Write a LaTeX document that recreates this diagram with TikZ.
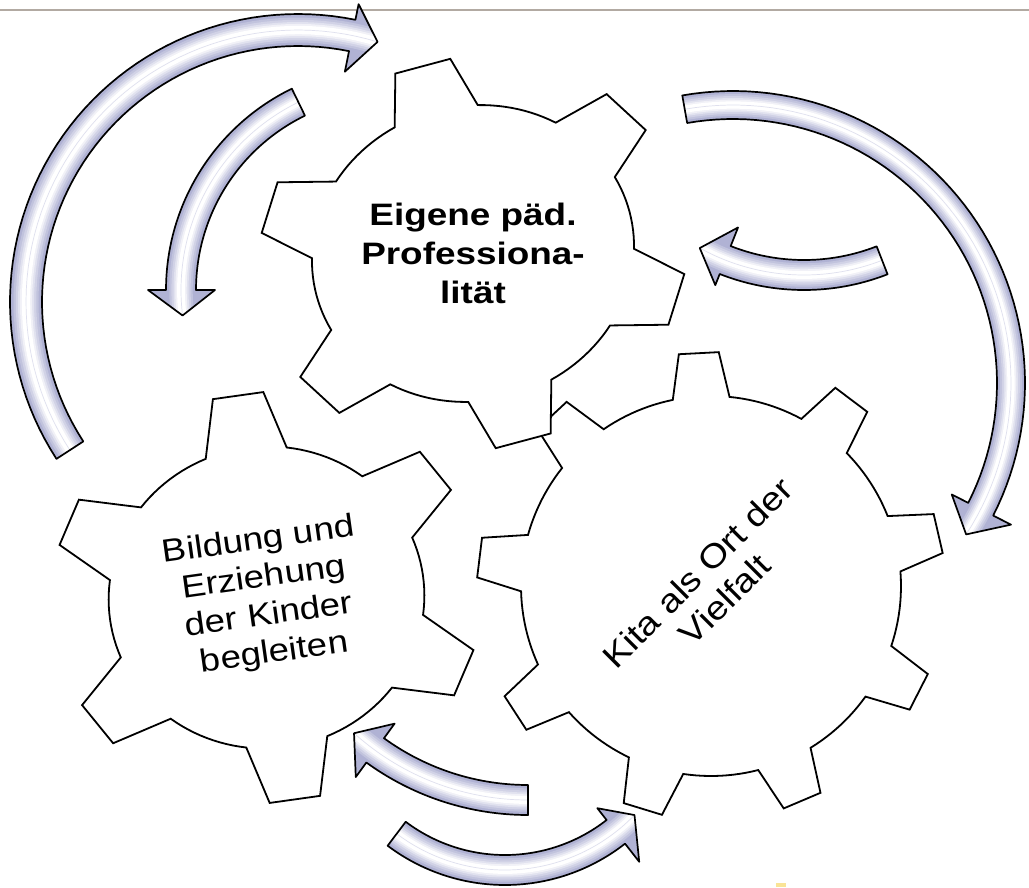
\documentclass[tikz,border=0pt]{standalone}
\usepackage{fontspec}
\newfontfamily\arial{Liberation Sans}
\definecolor{lav}{RGB}{176,178,212}
\definecolor{topline}{RGB}{178,170,162}
\definecolor{marky}{RGB}{250,228,150}

% gear outline in local coordinates: n, first tooth angle, root radius, tip radius, half base angle, half tip angle, last index
\newcommand\gearpath[7]{%
 ({#3*cos(#2-#5)},{#3*sin(#2-#5)})
 \foreach \i [evaluate=\i as \ta using #2+\i*360/#1] in {0,...,#7}{
   -- ({#4*cos(\ta-#6)},{#4*sin(\ta-#6)})
   -- ({#4*cos(\ta+#6)},{#4*sin(\ta+#6)})
   -- ({#3*cos(\ta+#5)},{#3*sin(\ta+#5)})
   \foreach \k in {1,...,12}{
     -- ({#3*cos(\ta+#5+\k*(360/#1-2*#5)/12)},{#3*sin(\ta+#5+\k*(360/#1-2*#5)/12)})
   }
 } -- cycle}

% curved block arrow: cx, cy, inner r, outer r, tail angle, base angle, tip angle, inner wing, outer wing
\newcommand\arrowpath[9]{%
 plot[domain=#5:#6,samples=60] ({#1+#4*cos(\x)},{#2+#4*sin(\x)})
 -- ({#1+(#4+#9)*cos(#6)},{#2+(#4+#9)*sin(#6)})
 -- ({#1+(#3+#4)/2*cos(#7)},{#2+(#3+#4)/2*sin(#7)})
 -- ({#1+(#3-#8)*cos(#6)},{#2+(#3-#8)*sin(#6)})
 -- plot[domain=#6:#5,samples=60] ({#1+#3*cos(\x)},{#2+#3*sin(\x)})
 -- cycle}

\newcommand\hlarc[7]{% cx cy rin rout from to ; #7 = options
  \draw[#7] plot[domain=#5:#6,samples=60] ({#1+(#3+#4)/2*cos(\x)},{#2+(#3+#4)/2*sin(\x)});}

\newcommand\curvarrow[9]{%
 \fill[arrowfill] \arrowpath{#1}{#2}{#3}{#4}{#5}{#6}{#7}{#8}{#9};
 \begin{scope}
  \clip \arrowpath{#1}{#2}{#3}{#4}{#5}{#6}{#7}{#8}{#9};
  \hlarc{#1}{#2}{#3}{#4}{#5}{#7}{line width={0.78*(#4-#3)}, color=lav!78!white}
  \hlarc{#1}{#2}{#3}{#4}{#5}{#7}{line width={0.64*(#4-#3)}, color=lav!58!white}
  \hlarc{#1}{#2}{#3}{#4}{#5}{#7}{line width={0.50*(#4-#3)}, color=lav!38!white}
  \hlarc{#1}{#2}{#3}{#4}{#5}{#7}{line width={0.38*(#4-#3)}, color=lav!18!white}
  \hlarc{#1}{#2}{#3}{#4}{#5}{#7}{line width={0.26*(#4-#3)}, color=white}
  \hlarc{#1}{#2}{#3}{#4}{#5}{#7}{line width=0.7, color=lav!40!white}
 \end{scope}
 \draw[arrowline] \arrowpath{#1}{#2}{#3}{#4}{#5}{#6}{#7}{#8}{#9};
}

\begin{document}
\begin{tikzpicture}[x=1pt,y=-1pt,
  gearshape/.style={draw=black, fill=white, line width=1.8pt, line join=miter},
  arrowfill/.style={fill=lav},
  arrowline/.style={draw=black, line width=1.7pt, line join=round},
  geartext/.style={align=center, inner sep=0pt, text=black}]
\useasboundingbox (0,0) rectangle (1029,887);
\fill[white] (0,0) rectangle (1029,887);

\draw[topline, line width=2pt] (0,10) -- (1029,10);
\fill[marky] (776,883) rectangle (786,887);

% gears
\begin{scope}[shift={(711,586)}]
 \draw[gearshape] \gearpath{9}{-93}{190}{234}{8.6}{4.9}{8};
\end{scope}
\begin{scope}[shift={(266.5,597.5)}, rotate=8, yscale=0.955]
 \draw[gearshape] \gearpath{6}{-90}{158}{215}{15}{6.8}{5};
\end{scope}
\begin{scope}[shift={(473,253.5)}, rotate=15, yscale=0.91]
 \draw[gearshape] \gearpath{6}{-90}{162}{215}{15.4}{7.6}{5};
\end{scope}

% texts
\node[geartext, font=\arial\bfseries\fontsize{31}{39}\selectfont, xscale=1.19] (t1) at (473,253.5)
  {Eigene päd.\\Professiona-\\lität};
\node[geartext, font=\arial\fontsize{32}{38}\selectfont, rotate=8, xscale=1.145] (t2) at (266.5,597.5)
  {Bildung und\\Erziehung\\der Kinder\\begleiten};
\node[geartext, font=\arial\fontsize{33}{38}\selectfont, rotate=45, xscale=1.15] (t3) at (711,586)
  {Kita als Ort der\\Vielfalt};

% arrows
\curvarrow{298}{302}{256}{288}{147}{281.5}{287}{21}{16}
\curvarrow{390}{290}{194}{224}{244}{180}{173}{19}{18}
\curvarrow{733}{383}{264}{292}{-100}{27}{33}{18.5}{20}
\curvarrow{804}{60}{200}{230}{68.7}{111.5}{119}{20}{12}
\curvarrow{528}{540}{245}{275}{90}{126}{132}{18}{18}
\curvarrow{505}{690}{165}{195}{127}{52}{44}{15}{23}
\end{tikzpicture}
\end{document}
